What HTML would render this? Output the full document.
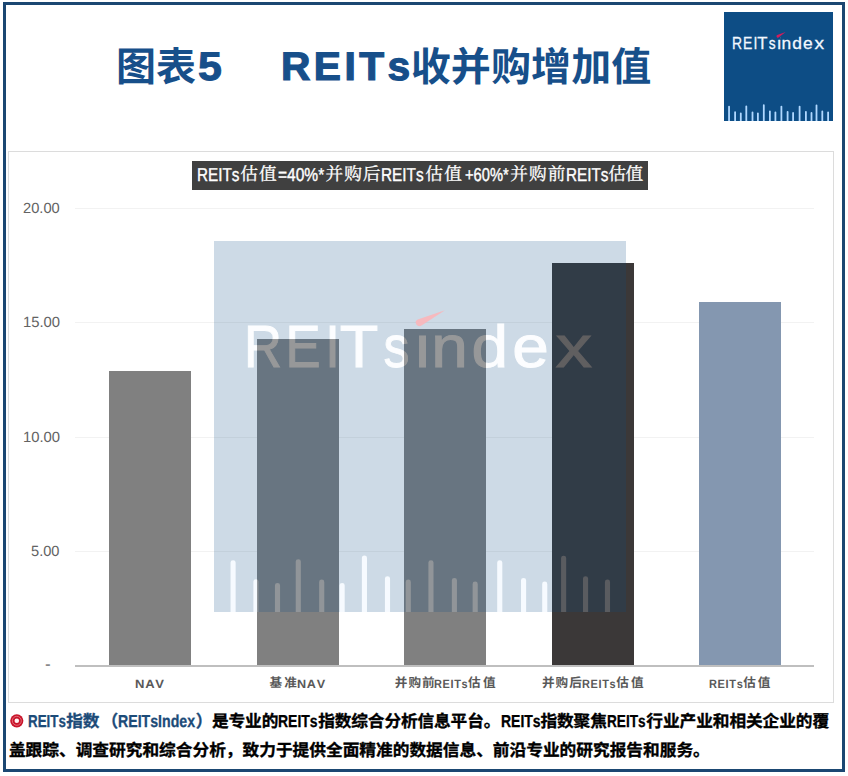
<!DOCTYPE html>
<html lang="zh-CN">
<head>
<meta charset="utf-8">
<title>图表5 REITs收并购增加值</title>
<style>
html,body{margin:0;padding:0;background:#fff}
body{width:848px;height:776px;position:relative;overflow:hidden;font-family:"Liberation Sans",sans-serif}
.frame{position:absolute;left:3px;top:2px;width:836px;height:764px;border:3px solid #1b4772;background:#fff}
.chart{position:absolute;left:8px;top:151px;width:824px;height:550px;border:1px solid #dcdcdc;background:#fff}
.grid{position:absolute;left:75px;width:739px;height:1px;background:#f2f2f2}
.axis{position:absolute;left:75px;top:665px;width:739px;height:2px;background:#bfbfbf}
.bar{position:absolute;width:82px}
.abs{position:absolute;overflow:visible}
.lgo{overflow:hidden}
.wm{opacity:.2}
.lg{font-family:"Liberation Sans",sans-serif;fill:#f2f8ff;stroke:#f2f8ff;stroke-width:.28px}
.lt{position:absolute;white-space:nowrap;transform-origin:0 0;font-kerning:none;text-rendering:geometricPrecision}
.lt.b{font-weight:bold}
.cjk{font-family:"Liberation Sans","Noto Sans CJK SC",sans-serif}
.cjs{font-family:"Liberation Sans","Noto Serif CJK SC",serif}
h1,p{margin:0;padding:0;font-size:inherit;font-weight:inherit}
.fml{position:absolute;left:192px;top:161px;width:456px;height:28.5px;background:#404040}
.fml>*{margin-left:-192px;margin-top:-161px}
</style>
</head>
<body>
<div class="frame"></div>
<header>
<h1>
<span class="lt b cjk" style="left:115.9px;top:48.2px;font-size:40px;line-height:40px;color:#174f8a;">图表</span>
<span class="lt b" style="left:198.42px;top:45px;font-size:40px;line-height:44px;color:#174f8a;transform:scaleX(1.0717);-webkit-text-stroke:1px #174f8a;">5</span>
<span class="lt b" style="left:281.49px;top:45px;font-size:40px;line-height:44px;color:#174f8a;transform:scaleX(1.0174);-webkit-text-stroke:1.2px #174f8a;letter-spacing:3.4px;">REITs</span>
<span class="lt b cjk" style="left:410.76px;top:48.2px;font-size:40px;line-height:40px;color:#174f8a;letter-spacing:0.12px;">收并购增加值</span>
</h1>
<svg class="abs lgo" style="left:724px;top:12px" width="109" height="109" viewBox="0 0 109 109" role="img" aria-label="REITsindex"><rect width="109" height="109" fill="#0d4d85"/><path d="M5.05 111V94.6M11.1 111V100.2M16.8 111V101.3M22.3 111V94.3M28.5 111V100.3M33.9 111V101.3M39.8 111V93.2M45.9 111V99.3M51.4 111V100.3M57.4 111V94.6M63.6 111V99.8M69.1 111V100.9M75.6 111V94.6M81.9 111V99.8M87.5 111V100.9M92.5 111V93.3M98.3 111V99.3M104.1 111V100.3" stroke="#b0d8ff" stroke-width="1.8" stroke-linecap="round" fill="none"/><g class="lg" style="font-size:17.4px"><text transform="scale(0.8 1)" x="9.91 23.67 36.77" y="37">REI</text><text transform="scale(0.96 1)" x="34.69" y="37">T</text><text transform="scale(0.79 1)" x="56.73" y="37">s</text><text transform="scale(1.0 1)" x="53.22 57.45 68.16 78.93" y="37">inde</text><text transform="scale(1.1 1)" x="82.19" y="37">x</text></g><rect x="53.65" y="23.99" width="3" height="3.22" fill="#0d4d85"/><path d="M61.7 20L53.2 23.1A1.35 1.35 0 0 0 54.5 25.5Z" fill="#d21c5c"/></svg>
</header>
<section class="fig" aria-label="REITs收并购增加值">
<div class="chart"></div>
<div class="fml">
<span class="lt" style="left:197.21px;top:164px;font-size:18.67px;line-height:21px;color:#fff;transform:scaleX(0.8171);-webkit-text-stroke:0.4px #fff;">REITs</span>
<span class="lt cjs" style="left:240.33px;top:166.2px;font-size:17.7px;line-height:17.7px;color:#fff;-webkit-text-stroke:0.3px #fff;letter-spacing:1px;">估值</span>
<span class="lt" style="left:277.71px;top:164px;font-size:18.67px;line-height:21px;color:#fff;transform:scaleX(0.8331);-webkit-text-stroke:0.4px #fff;">=40%*</span>
<span class="lt cjs" style="left:325.56px;top:166.2px;font-size:17.7px;line-height:17.7px;color:#fff;-webkit-text-stroke:0.3px #fff;letter-spacing:0.96px;">并购后</span>
<span class="lt" style="left:380.81px;top:164px;font-size:18.67px;line-height:21px;color:#fff;transform:scaleX(0.8211);-webkit-text-stroke:0.4px #fff;">REITs</span>
<span class="lt cjs" style="left:425.33px;top:166.2px;font-size:17.7px;line-height:17.7px;color:#fff;-webkit-text-stroke:0.3px #fff;letter-spacing:1.3px;">估值</span>
<span class="lt" style="left:464.94px;top:164px;font-size:18.67px;line-height:21px;color:#fff;transform:scaleX(0.7875);-webkit-text-stroke:0.4px #fff;">+60%*</span>
<span class="lt cjs" style="left:510.36px;top:166.2px;font-size:17.7px;line-height:17.7px;color:#fff;-webkit-text-stroke:0.3px #fff;letter-spacing:0.96px;">并购前</span>
<span class="lt" style="left:565.51px;top:164px;font-size:18.67px;line-height:21px;color:#fff;transform:scaleX(0.8191);-webkit-text-stroke:0.4px #fff;">REITs</span>
<span class="lt cjs" style="left:608.32px;top:166.2px;font-size:17.7px;line-height:17.7px;color:#fff;-webkit-text-stroke:0.3px #fff;letter-spacing:-0.4px;">估值</span>
</div>
<span class="lt" style="left:23.16px;top:201px;font-size:14.8px;line-height:16px;color:#636363;transform:scaleX(0.9912);">20.00</span>
<span class="lt" style="left:22.77px;top:315px;font-size:14.8px;line-height:16px;color:#636363;transform:scaleX(1.0020);">15.00</span>
<span class="lt" style="left:22.77px;top:430px;font-size:14.8px;line-height:16px;color:#636363;transform:scaleX(1.0020);">10.00</span>
<span class="lt" style="left:31.41px;top:544px;font-size:14.8px;line-height:16px;color:#636363;transform:scaleX(0.9879);">5.00</span>
<span class="lt" style="left:44.84px;top:657px;font-size:14.8px;line-height:16px;color:#595959;transform:scaleX(1.1624);">-</span>
<div class="grid" style="top:208px"></div>
<div class="grid" style="top:322px"></div>
<div class="grid" style="top:437px"></div>
<div class="grid" style="top:551px"></div>
<div class="bar" style="left:109px;top:371px;height:294px;background:#808080"></div>
<div class="bar" style="left:257px;top:339px;height:326px;background:#808080"></div>
<div class="bar" style="left:404px;top:329px;height:336px;background:#808080"></div>
<div class="bar" style="left:552px;top:263px;height:402px;background:#3b3838"></div>
<div class="bar" style="left:699px;top:302px;height:363px;background:#8497b0"></div>
<div class="axis"></div>
<svg class="abs lgo wm" style="left:214px;top:241px" width="412" height="371" viewBox="0 0 109 109" preserveAspectRatio="none" aria-hidden="true"><rect width="109" height="109" fill="#0d4d85"/><path d="M5.05 111V94.45M11.1 111V100.05M16.8 111V101.15M22.3 111V94.15M28.5 111V100.15M33.9 111V101.15M39.8 111V93.05M45.9 111V99.15M51.4 111V100.15M57.4 111V94.45M63.6 111V99.65M69.1 111V100.75M75.6 111V94.45M81.9 111V99.65M87.5 111V100.75M92.5 111V93.15M98.3 111V99.15M104.1 111V100.15" stroke="#d4eaff" stroke-width="1.35" stroke-linecap="round" fill="none"/><g class="lg" style="font-size:17.4px"><text transform="scale(0.8 1)" x="9.91 23.67 36.77" y="37">REI</text><text transform="scale(0.96 1)" x="34.69" y="37">T</text><text transform="scale(0.79 1)" x="56.73" y="37">s</text><text transform="scale(1.0 1)" x="53.22 57.45 68.16 78.93" y="37">inde</text><text transform="scale(1.1 1)" x="82.19" y="37">x</text></g><rect x="53.65" y="23.99" width="3" height="3.22" fill="#0d4d85"/></svg>
<svg class="abs lgo" style="left:214px;top:241px" width="412" height="371" viewBox="0 0 109 109" preserveAspectRatio="none" aria-hidden="true"><path d="M61.1 20.35L53.9 23.1A1 1 0 0 0 54.9 24.85Z" fill="#fcb4b8" opacity=".88"/></svg>
<span class="lt b" style="left:135.33px;top:677px;font-size:12px;line-height:14px;color:#595959;transform:scaleX(1.0870);letter-spacing:0.7px;">NAV</span>
<span class="lt b cjk" style="left:269.6px;top:676.9px;font-size:12.6px;line-height:12.6px;color:#595959;letter-spacing:2.18px;">基准</span>
<span class="lt b" style="left:297.16px;top:677px;font-size:12px;line-height:14px;color:#595959;transform:scaleX(1.0522);letter-spacing:0.7px;">NAV</span>
<span class="lt b cjk" style="left:394.82px;top:676.9px;font-size:12.6px;line-height:12.6px;color:#595959;letter-spacing:0.97px;">并购前</span>
<span class="lt b" style="left:434.47px;top:677px;font-size:12px;line-height:14px;color:#595959;transform:scaleX(0.9123);letter-spacing:0.7px;">REITs</span>
<span class="lt b cjk" style="left:468.12px;top:676.9px;font-size:12.6px;line-height:12.6px;color:#595959;letter-spacing:2.38px;">估值</span>
<span class="lt b cjk" style="left:542.02px;top:676.9px;font-size:12.6px;line-height:12.6px;color:#595959;letter-spacing:0.99px;">并购后</span>
<span class="lt b" style="left:582.07px;top:677px;font-size:12px;line-height:14px;color:#595959;transform:scaleX(0.9123);letter-spacing:0.7px;">REITs</span>
<span class="lt b cjk" style="left:616.22px;top:676.9px;font-size:12.6px;line-height:12.6px;color:#595959;letter-spacing:2.08px;">估值</span>
<span class="lt b" style="left:709.06px;top:677px;font-size:12px;line-height:14px;color:#595959;transform:scaleX(0.9180);letter-spacing:0.7px;">REITs</span>
<span class="lt b cjk" style="left:743.22px;top:676.9px;font-size:12.6px;line-height:12.6px;color:#595959;letter-spacing:1.88px;">估值</span>
</section>
<footer>
<p class="ft">
<svg class="abs" style="left:10.1px;top:714px" width="13.6" height="13.6" viewBox="-6.8 -6.8 13.6 13.6" role="img" aria-label="◎"><circle r="6.6" fill="#c8142a"/><circle r="4.5" fill="none" stroke="#ea7f8a" stroke-width=".8"/><circle r="2.3" fill="#fff4f4"/></svg>
<span class="lt b" style="left:28.22px;top:711px;font-size:17.4px;line-height:20px;color:#1c4b78;transform:scaleX(0.7688);-webkit-text-stroke:0.3px #1c4b78;">REITs</span>
<span class="lt b cjk" style="left:66.23px;top:714px;font-size:16.7px;line-height:16.7px;color:#1c4b78;-webkit-text-stroke:0.35px #1c4b78;letter-spacing:-0.14px;">指数</span>
<span class="lt b cjk" style="left:101.53px;top:714px;font-size:16.7px;line-height:16.7px;color:#1c4b78;-webkit-text-stroke:0.35px #1c4b78;">（</span>
<span class="lt b" style="left:117.87px;top:711px;font-size:17.4px;line-height:20px;color:#1c4b78;transform:scaleX(0.8137);-webkit-text-stroke:0.3px #1c4b78;">REITsIndex</span>
<span class="lt b cjk" style="left:195.83px;top:714px;font-size:16.7px;line-height:16.7px;color:#1c4b78;-webkit-text-stroke:0.35px #1c4b78;">）</span>
<span class="lt b cjk" style="left:212.03px;top:714px;font-size:16.7px;line-height:16.7px;color:#000;-webkit-text-stroke:0.35px #000;letter-spacing:-0.14px;">是专业的</span>
<span class="lt b" style="left:278.48px;top:711px;font-size:17.4px;line-height:20px;color:#000;transform:scaleX(0.8045);-webkit-text-stroke:0.3px #000;">REITs</span>
<span class="lt b cjk" style="left:318.23px;top:714px;font-size:16.7px;line-height:16.7px;color:#000;-webkit-text-stroke:0.35px #000;letter-spacing:-0.14px;">指数综合分析信息平台。</span>
<span class="lt b" style="left:500.78px;top:711px;font-size:17.4px;line-height:20px;color:#000;transform:scaleX(0.8045);-webkit-text-stroke:0.3px #000;">REITs</span>
<span class="lt b cjk" style="left:540.53px;top:714px;font-size:16.7px;line-height:16.7px;color:#000;-webkit-text-stroke:0.35px #000;letter-spacing:-0.14px;">指数聚焦</span>
<span class="lt b" style="left:607.41px;top:711px;font-size:17.4px;line-height:20px;color:#000;transform:scaleX(0.7835);-webkit-text-stroke:0.3px #000;">REITs</span>
<span class="lt b cjk" style="left:646.36px;top:714px;font-size:16.7px;line-height:16.7px;color:#000;-webkit-text-stroke:0.35px #000;letter-spacing:-0.08px;">行业产业和相关企业的覆</span>
<span class="lt b cjk" style="left:8.9px;top:742.7px;font-size:16.7px;line-height:16.7px;color:#000;-webkit-text-stroke:0.35px #000;">盖跟踪、调查研究和综合分析，致力于提供全面精准的数据信息、前沿专业的研究报告和服务。</span>
</p>
</footer>
</body>
</html>
